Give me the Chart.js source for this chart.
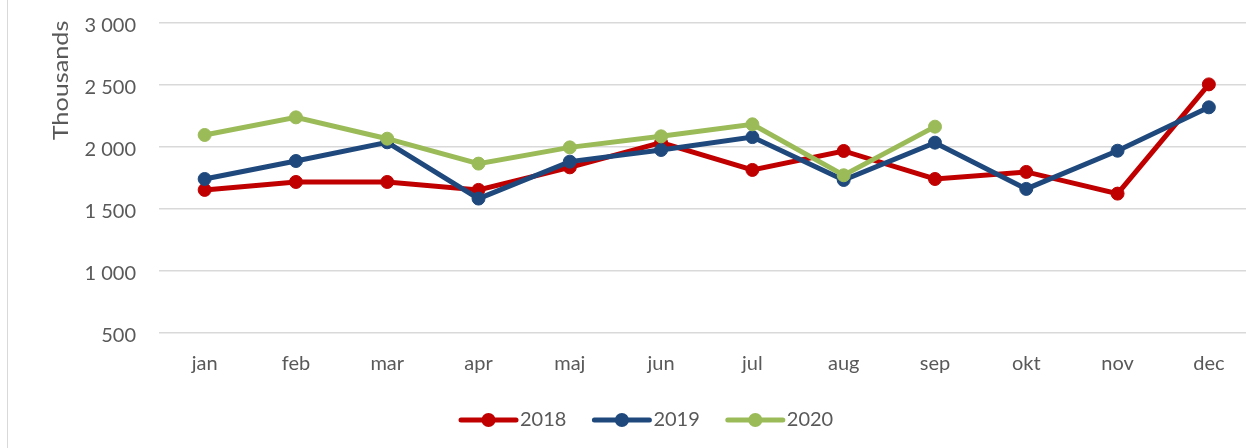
<!DOCTYPE html>
<html>
<head>
<meta charset="utf-8">
<script src="https://cdn.jsdelivr.net/npm/chart.js@4/dist/chart.umd.min.js"></script>
<style>
    html, body { margin: 0; padding: 0; background: #fff; overflow: hidden; }
    #wrap { position: relative; width: 1262px; height: 448px; }
</style>
</head>
<body>
<div id="wrap"><canvas id="chart" width="1262" height="448"></canvas></div>
<script>
// Data (thousands)
const months = ['jan', 'feb', 'mar', 'apr', 'maj', 'jun', 'jul', 'aug', 'sep', 'okt', 'nov', 'dec'];
const years = ['2018', '2019', '2020'];
const values2018 = [1654, 1718, 1718, 1654, 1836, 2035, 1815, 1968, 1742, 1799, 1624, 2505];
const values2019 = [1742, 1887, 2038, 1584, 1882, 1976, 2080, 1734, 2035, 1662, 1970, 2320];
const values2020 = [2097, 2239, 2067, 1866, 1997, 2086, 2183, 1772, 2164];
const yTicks = [500, 1000, 1500, 2000, 2500, 3000];
const colors = ['#c00000', '#1f497d', '#9bbb59'];

const textColor = '#595959';
const fontFamily = 'Lato, "Open Sans", sans-serif';

function formatThousands(v) {
    if (v < 1000) return String(v);
    return Math.floor(v / 1000) + ' ' + String(v % 1000).padStart(3, '0');
}

// Extra drawing: frame line, "Thousands" label, line+marker legend
const extras = {
    id: 'extras',
    beforeDraw(chart) {
        const ctx = chart.ctx;
        ctx.save();
        ctx.strokeStyle = '#d9d9d9';
        ctx.lineWidth = 1;
        ctx.beginPath();
        ctx.moveTo(7.5, 0);
        ctx.lineTo(7.5, chart.height);
        ctx.stroke();
        ctx.restore();
    },
    afterDraw(chart) {
        const ctx = chart.ctx;
        ctx.save();
        ctx.fillStyle = textColor;
        ctx.font = '21px ' + fontFamily;
        ctx.translate(61, 80.5);
        ctx.rotate(-Math.PI / 2);
        ctx.scale(1.2, 1);
        ctx.textAlign = 'center';
        ctx.textBaseline = 'middle';
        ctx.fillText('Thousands', 0, 0);
        ctx.restore();

        ctx.save();
        ctx.font = '20px ' + fontFamily;
        ctx.textBaseline = 'middle';
        const y = 420;
        let x = 461;
        chart.data.datasets.forEach(ds => {
            ctx.strokeStyle = ds.borderColor;
            ctx.lineWidth = 5;
            ctx.lineCap = 'round';
            ctx.beginPath();
            ctx.moveTo(x, y);
            ctx.lineTo(x + 55, y);
            ctx.stroke();
            ctx.fillStyle = ds.borderColor;
            ctx.beginPath();
            ctx.arc(x + 27.5, y, 7, 0, Math.PI * 2);
            ctx.fill();
            ctx.fillStyle = textColor;
            ctx.fillText(ds.label, x + 59, y);
            x += 59 + ctx.measureText(ds.label).width + 28;
        });
        ctx.restore();
    }
};

Chart.defaults.font.family = fontFamily;
Chart.defaults.font.size = 20;
Chart.defaults.color = textColor;

const seriesValues = [values2018, values2019, values2020];

new Chart(document.getElementById('chart'), {
    type: 'line',
    data: {
        labels: months,
        datasets: years.map((year, i) => ({
            label: year,
            data: seriesValues[i],
            borderColor: colors[i],
            backgroundColor: colors[i],
            borderWidth: 5,
            pointRadius: 6.5,
            pointBorderWidth: 1,
            pointBackgroundColor: colors[i],
            pointBorderColor: colors[i],
            tension: 0,
            order: years.length - i
        }))
    },
    options: {
        responsive: false,
        animation: false,
        layout: { padding: { top: 23, right: 6, bottom: 0, left: 0 } },
        plugins: {
            legend: { display: false },
            tooltip: { enabled: false }
        },
        scales: {
            x: {
                offset: true,
                grid: { display: false, drawTicks: false },
                border: { display: false },
                ticks: { padding: 19, maxRotation: 0 },
                afterFit(scale) { scale.height = 115; }
            },
            y: {
                min: yTicks[0],
                max: yTicks[yTicks.length - 1],
                afterBuildTicks(scale) { scale.ticks = yTicks.map(v => ({ value: v })); },
                grid: { color: '#d9d9d9', lineWidth: 1.5, drawTicks: false },
                border: { display: false },
                ticks: {
                    padding: 23,
                    labelOffset: 3,
                    callback: v => formatThousands(v)
                },
                afterFit(scale) {
                    scale.width = 159;
                    scale.paddingTop = 0;
                    scale.paddingBottom = 0;
                }
            }
        }
    },
    plugins: [extras]
});
</script>
</body>
</html>
